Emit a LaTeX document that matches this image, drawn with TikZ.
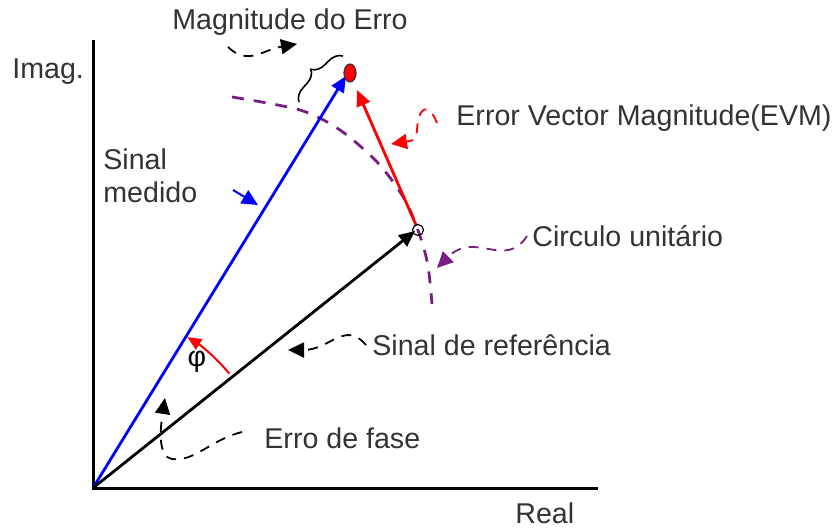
\documentclass[tikz,border=0pt]{standalone}
\usepackage{fontspec}
\setmainfont{Liberation Sans}
\usetikzlibrary{arrows.meta,positioning,calc,decorations.pathreplacing}
\definecolor{roxo}{RGB}{120,30,130}
\definecolor{texto}{RGB}{50,50,55}

\begin{document}
\begin{tikzpicture}[x=0.5pt,y=-0.5pt,font=\fontsize{14.3}{16.5}\selectfont,text=texto,inner sep=0pt,
    ponteiro/.style={dash pattern=on 5pt off 4pt,line width=0.9pt},
    tip/.style={-{Triangle[length=8pt,width=7.5pt]}}]
\useasboundingbox (0,0) rectangle (837,527);
\coordinate (o) at (93,488);
\coordinate (medido) at (346,76);
\coordinate (ref) at (415,231);
\coordinate (erro) at (357,90);
% textos
\node[anchor=west] (imag) at (12,72) {Imag.};
\node[anchor=west] (real) at (515,513) {Real};
\node[anchor=west] (magerro) at (172,22) {Magnitude do Erro};
\node[anchor=west] (evm) at (456,118) {Error Vector Magnitude(EVM)};
\node[anchor=north west,align=left] (sinalmed) at (103,148) {Sinal\\medido};
\node[anchor=west] (circulo) at (532,236) {Circulo unitário};
\node[anchor=west] (sinalref) at (372,345) {Sinal de referência};
\node[anchor=west] (fase) at (264,438) {Erro de fase};
\node[text=black] (phi) at (197,362) {φ};
% eixos
\draw[line width=1.5pt] (93,40) -- (o) -- (598,488);
% circulo unitario
\draw[roxo,line width=1.4pt,dash pattern=on 6pt off 5pt] plot[smooth] coordinates {(232,97) (300,110) (340,130) (378,163) (405,200) (420,236) (428,266) (432,304)};
% vetores
\draw[blue,line width=1.4pt,-{Triangle[length=8pt,width=7pt]}] (o) -- (medido);
\draw[line width=1.4pt,-{Triangle[length=8pt,width=7pt]}] (o) -- (ref);
\draw[red,line width=1.4pt,-{Triangle[length=8pt,width=7pt]}] (416,225) -- (erro);
\draw[line width=0.6pt] (418,230) circle[radius=5.5];
\draw[fill=red,line width=0.6pt,draw=black!80] (350,73) ellipse[x radius=6,y radius=9];
% fase
\draw[red,line width=1pt,-{Triangle[length=7pt,width=6pt]}] ([shift={(-40:178)}]o) arc[start angle=-40,end angle=-58,radius=178];
% chave
\draw[line width=0.8pt,decorate,decoration={brace,amplitude=7pt}] (299,102) -- (343,56);
% ponteiros
\draw[ponteiro,tip] (228,47) .. controls (248,66) and (262,50) .. (297,44);
\draw[ponteiro,tip,red] (evm.west) ++(-19,5) .. controls (428,100) and (418,108) .. (417,130) .. controls (416,140) .. (391,144);
\draw[ponteiro,tip,roxo] (circulo.west) ++(-5,0) .. controls (505,270) and (475,230) .. (437,268);
\draw[ponteiro,tip] (sinalref.west) ++(-6,0) .. controls (345,320) and (330,350) .. (288,350);
\draw[ponteiro,tip] (fase.west) ++(-22,-6) .. controls (210,440) and (195,462) .. (172,459) .. controls (158,457) and (160,430) .. (165,398);
\draw[blue,line width=1pt,tip] (233,190) -- (258,205);
\end{tikzpicture}
\end{document}
